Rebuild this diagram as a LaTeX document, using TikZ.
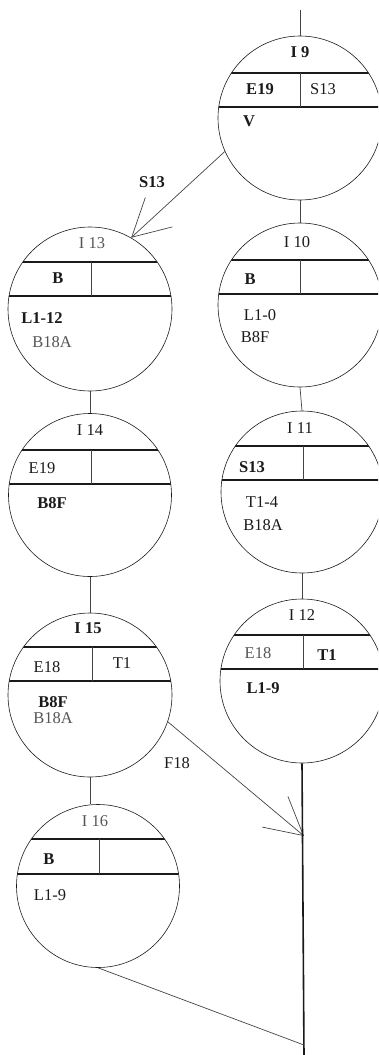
\documentclass[tikz,border=0pt]{standalone}
\usepackage{fontspec}
\setmainfont{Liberation Serif}
\usetikzlibrary{arrows.meta}
\definecolor{ink}{HTML}{1A1A1A}
\definecolor{soft}{HTML}{555555}
\definecolor{wire}{HTML}{444444}
\tikzset{
  circ/.style={circle, draw=ink, line width=0.6pt, minimum size=164pt, inner sep=0pt},
  chord/.style={draw=ink, line width=1.1pt},
  divider/.style={draw=wire, line width=0.7pt},
  conn/.style={draw=wire, line width=0.7pt},
  trunk/.style={draw=ink, line width=1.6pt},
  barb/.style={conn, -{Straight Barb[length=37pt, width=40pt, line width=0.7pt]}},
  tb/.style={font=\fontsize{16.5}{18}\selectfont\bfseries, text=ink, inner sep=0pt},
  tn/.style={font=\fontsize{16.5}{18}\selectfont, text=ink, inner sep=0pt},
  tg/.style={font=\fontsize{16.5}{18}\selectfont, text=soft, inner sep=0pt},
}
\begin{document}
\begin{tikzpicture}[x=1pt, y=-1pt]
\useasboundingbox (0,0) rectangle (378,1055);
\clip (0,0) rectangle (378,1055);

% circles
\node[circ] (i9)  at (300,118) {};
\node[circ] (i10) at (300,305) {};
\node[circ, minimum size=162pt] (i11) at (302,492) {};
\node[circ] (i12) at (302,681) {};
\node[circ] (i13) at (90,309) {};
\node[circ, minimum size=163pt] (i14) at (90,495) {};
\node[circ] (i15) at (90,695) {};
\node[circ, minimum size=163pt] (i16) at (98,886) {};

% inner rows
\begin{scope}\clip (300,118) circle (82pt);
  \draw[chord] (200,73) -- (400,73); \draw[chord] (200,107) -- (400,107);
  \draw[divider] (300,73) -- (300,107);
\end{scope}
\begin{scope}\clip (300,305) circle (82pt);
  \draw[chord] (200,260) -- (400,260); \draw[chord] (200,294) -- (400,294);
  \draw[divider] (300,260) -- (300,294);
\end{scope}
\begin{scope}\clip (302,492) circle (81pt);
  \draw[chord] (200,446) -- (400,446); \draw[chord] (200,480) -- (400,480);
  \draw[divider] (303,446) -- (303,480);
\end{scope}
\begin{scope}\clip (302,681) circle (82pt);
  \draw[chord] (200,635) -- (400,635); \draw[chord] (200,669) -- (400,669);
  \draw[divider] (303,635) -- (303,669);
\end{scope}
\begin{scope}\clip (90,309) circle (82pt);
  \draw[chord] (0,262) -- (200,262); \draw[chord] (0,296) -- (200,296);
  \draw[divider] (91,262) -- (91,296);
\end{scope}
\begin{scope}\clip (90,495) circle (81.5pt);
  \draw[chord] (0,450) -- (200,450); \draw[chord] (0,484) -- (200,484);
  \draw[divider] (91,450) -- (91,484);
\end{scope}
\begin{scope}\clip (90,695) circle (82pt);
  \draw[chord] (0,647) -- (200,647); \draw[chord] (0,681) -- (200,681);
  \draw[divider] (92,647) -- (92,681);
\end{scope}
\begin{scope}\clip (98,886) circle (81.5pt);
  \draw[chord] (0,839) -- (200,839); \draw[chord] (0,874) -- (200,874);
  \draw[divider] (99,839) -- (99,874);
\end{scope}

% texts I9
\node[tb] (t9)  at (300,52) {I 9};
\node[tb] (t9a) at (260,89) {E19};
\node[tn] (t9b) at (323,89) {S13};
\node[tb] (t9c) at (249,121) {V};
% I10
\node[tn] (t10)  at (297,242) {I 10};
\node[tb] (t10a) at (250,279) {B};
\node[tn] (t10b) at (260,315) {L1-0};
\node[tn] (t10c) at (255,337) {B8F};
% I11
\node[tn] (t11)  at (300,428) {I 11};
\node[tb] (t11a) at (252,467) {S13};
\node[tn] (t11b) at (262,502) {T1-4};
\node[tn] (t11c) at (263,525) {B18A};
% I12
\node[tn] (t12)  at (302,615) {I 12};
\node[tg] (t12a) at (258,653) {E18};
\node[tb] (t12b) at (327,655) {T1};
\node[tb] (t12c) at (263,688) {L1-9};
% I13
\node[tg] (t13)  at (92,243) {I 13};
\node[tb] (t13a) at (58,278) {B};
\node[tb] (t13b) at (42,318) {L1-12};
\node[tg] (t13c) at (52,342) {B18A};
% I14
\node[tn] (t14)  at (90,430) {I 14};
\node[tn] (t14a) at (42,468) {E19};
\node[tb] (t14b) at (52,503) {B8F};
% I15
\node[tb] (t15)  at (88,628) {I 15};
\node[tn] (t15a) at (47,667) {E18};
\node[tn] (t15b) at (122,663) {T1};
\node[tb] (t15c) at (53,702) {B8F};
\node[tg] (t15d) at (53,718) {B18A};
% I16
\node[tg] (t16)  at (95,821) {I 16};
\node[tb] (t16a) at (49,859) {B};
\node[tn] (t16b) at (50,895) {L1-9};

% connector labels
\node[tb] (ls13) at (152,182) {S13};
\node[tn] (lf18) at (177,763) {F18};

% free ends
\coordinate (topend) at (300,10);
\coordinate (f18tip) at (304,836);
\coordinate (j16) at (304,1045);
\coordinate (bottom) at (304,1056);

% connectors
\draw[conn] (topend) -- (i9.north);
\draw[conn] (i9.south) -- (i10.north);
\draw[conn] (i10.south) -- (i11.north);
\draw[conn] (i11.south) -- (i12.north);
\draw[conn] (i13.south) -- (i14.north);
\draw[conn] (i14.south) -- (i15.north);
\draw[conn] (i15.south) -- (i15.south |- i16.north);
\draw[barb] (i9.204) -- (i13.60);
\draw[barb] (i15.341) -- (f18tip);
\draw[trunk] (i12.south) -- (bottom);
\draw[conn] (i16.south) -- (j16);
\end{tikzpicture}
\end{document}
